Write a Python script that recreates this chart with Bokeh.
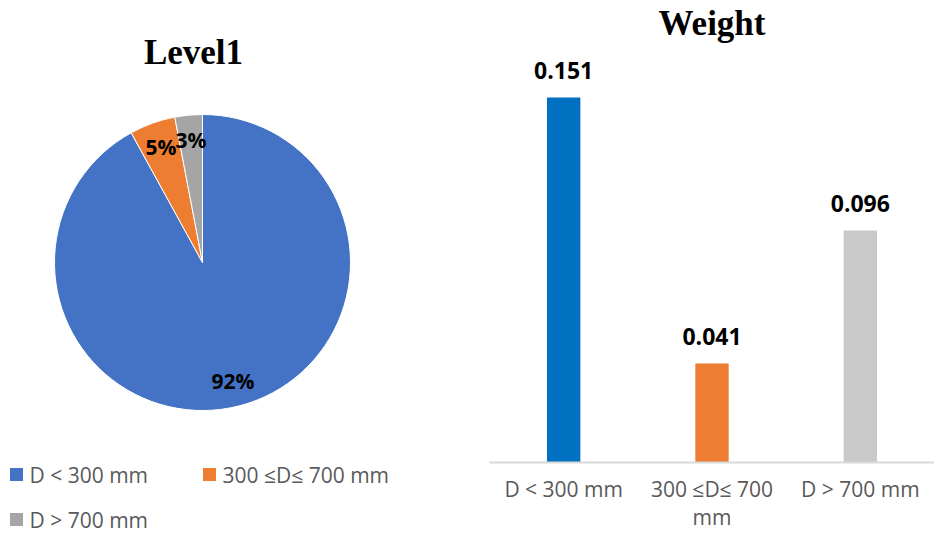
import math
from bokeh.plotting import figure
from bokeh.layouts import row
from bokeh.models import Range1d, FactorRange, ColumnDataSource
from bokeh.core.properties import value
from bokeh.embed import file_html
from bokeh.resources import INLINE

# ---- data ----
categories = ["D < 300 mm", "300 ≤D≤ 700 mm", "D > 700 mm"]
tick_labels = ["D < 300 mm", "300 ≤D≤ 700\nmm", "D > 700 mm"]
level1_share = [0.92, 0.05, 0.03]
weights = [0.151, 0.041, 0.096]
pie_colors = ["#4472C4", "#ED7D31", "#A5A5A5"]
bar_colors = ["#0070C0", "#ED7D31", "#C9C9C9"]

SANS = "Open Sans"
SERIF = "Liberation Serif"

H = 534
W1, W2 = 470, 464

# ---- pie figure (pixel-like data space: y = H - page_y) ----
pie = figure(width=W1, height=H, x_range=Range1d(0, W1), y_range=Range1d(0, H),
             output_backend="svg", toolbar_location=None, min_border=0)
pie.frame_align = False
pie.axis.visible = False
pie.grid.visible = False
pie.outline_line_color = None

cx, cy, r = 202, H - 262, 148
starts, ends, mids = [], [], []
acc = 0.0
for s in level1_share:
    a0 = math.pi / 2 - 2 * math.pi * acc
    acc += s
    a1 = math.pi / 2 - 2 * math.pi * acc
    starts.append(a0)
    ends.append(a1)
    mids.append((a0 + a1) / 2)

pie_src = ColumnDataSource(dict(start=starts, end=ends, color=pie_colors, cat=categories))
pie.wedge(x=cx, y=cy, radius=r, start_angle="start", end_angle="end", direction="clock",
          fill_color="color", line_color="white", line_width=1, source=pie_src)

lab_r = 0.83 * r
pie.text(x=[cx + lab_r * math.cos(m) for m in mids],
         y=[cy + lab_r * math.sin(m) for m in mids],
         text=[f"{round(s * 100)}%" for s in level1_share],
         text_align="center", text_baseline="middle",
         text_font=value(SANS), text_font_style="bold", text_font_size="21px",
         text_color="black")

pie.text(x=[193], y=[H - 52], text=["Level1"], text_align="center", text_baseline="middle",
         text_font=value(SERIF), text_font_style="bold", text_font_size="35px",
         text_color="black")

# legend
leg_x = [16, 209, 16]
leg_y = [H - 474, H - 474, H - 519]
pie.scatter(x=leg_x, y=leg_y, marker="square", size=13, fill_color=pie_colors, line_color=None)
pie.text(x=[v + 13 for v in leg_x], y=leg_y, text=categories, text_align="left",
         text_baseline="middle", text_font=value(SANS), text_font_size="21px",
         text_color="#595959")

# ---- bar figure ----
bar = figure(width=W2, height=H, x_range=FactorRange(factors=tick_labels, range_padding=0),
             y_range=Range1d(0, 0.1738), output_backend="svg", toolbar_location=None,
             min_border_left=19, min_border_right=0,
             min_border_top=42, min_border_bottom=72,
             title="Weight")
bar.frame_align = False
bar.title.align = "center"
bar.title.text_font = SERIF
bar.title.text_font_size = "35px"
bar.title.text_font_style = "bold"
bar.title.text_color = "black"
bar.title.standoff = 0
bar.outline_line_color = None
bar.grid.visible = False
bar.yaxis.visible = False

bar_src = ColumnDataSource(dict(cat=tick_labels, w=weights, color=bar_colors,
                                lab=[f"{w:.3f}" for w in weights]))
bar.vbar(x="cat", top="w", width=0.225, fill_color="color", line_color=None, source=bar_src)
bar.text(x="cat", y="w", text="lab", y_offset=-27, text_align="center", text_baseline="middle",
         text_font=value(SANS), text_font_style="bold", text_font_size="23px",
         text_color="black", source=bar_src)

xa = bar.xaxis[0]
xa.axis_line_color = "#D9D9D9"
xa.axis_line_width = 2
xa.major_tick_line_color = None
xa.minor_tick_line_color = None
xa.major_label_text_font = SANS
xa.major_label_text_font_size = "21px"
xa.major_label_text_color = "#595959"
xa.major_label_text_line_height = 1.0
xa.major_label_standoff = 6

layout = row(pie, bar)
open("out.html", "w").write(file_html(layout, INLINE))
